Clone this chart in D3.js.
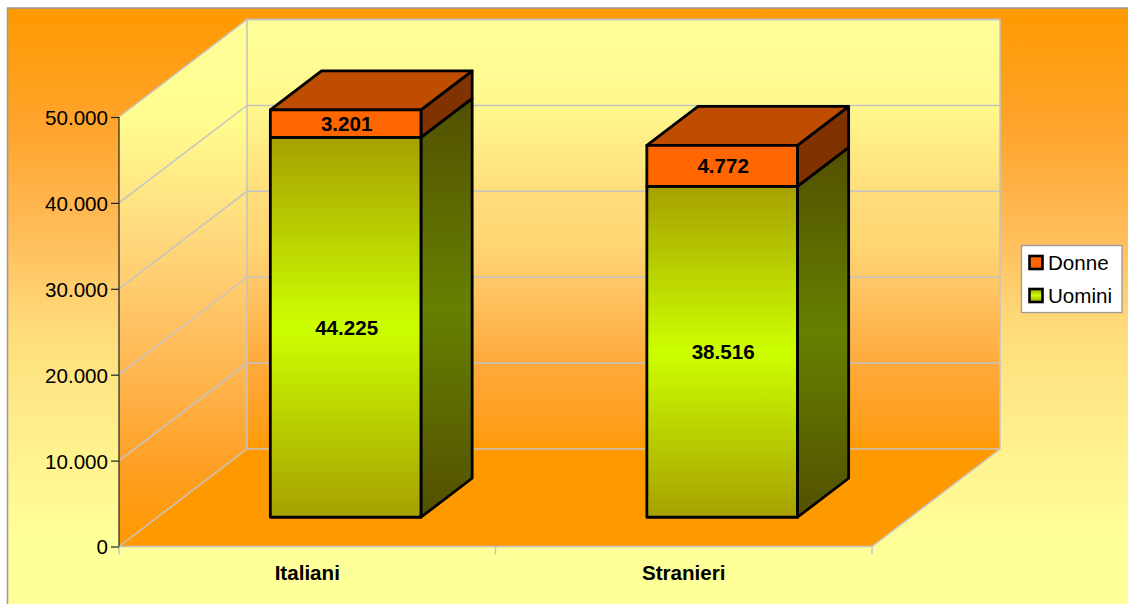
<!DOCTYPE html>
<html><head><meta charset="utf-8"><style>html,body{margin:0;padding:0;background:#fff}svg{display:block}text{font-family:"Liberation Sans",Arial,sans-serif;fill:#000}</style>
<script src="https://cdn.jsdelivr.net/npm/d3@7/dist/d3.min.js"></script></head><body><script>
const categories = ["Italiani", "Stranieri"];
const uomini = [44225, 38516];
const donne = [3201, 4772];
const yTicks = [0, 10000, 20000, 30000, 40000, 50000];
const legendLabels = ["Donne", "Uomini"];

const W = 1128, H = 604;
const FS = 20.6;
const svg = d3.select("body").append("svg").attr("width", W).attr("height", H);
const defs = svg.append("defs");
function grad(id, stops) {
  const g = defs.append("linearGradient").attr("id", id).attr("x1", 0).attr("y1", 0).attr("x2", 0).attr("y2", 1);
  stops.forEach(s => g.append("stop").attr("offset", s[0]).attr("stop-color", s[1]));
}
// colours sampled by eye at pixel rows
const rows = (y0, y1, samples) => samples.map(([py, c]) => [(py - y0) / (y1 - y0), c]);
grad("bg", rows(8, 604, [[8, "#FF9900"], [130, "#FFA52E"], [240, "#FFBE5C"], [330, "#FFDC7C"], [440, "#FFF08C"], [540, "#FFFF99"], [604, "#FFFF99"]]));
grad("back", rows(20, 449, [[20, "#FFFF99"], [106, "#FFF88E"], [190, "#FFDE7C"], [240, "#FFD774"], [280, "#FFC868"], [363, "#FFAA3C"], [430, "#FF9E1A"], [449, "#FF9900"]]));
grad("left", rows(20, 546.5, [[20, "#FFFF99"], [117, "#FFFD90"], [240, "#FFD87C"], [330, "#FFC060"], [400, "#FFB045"], [470, "#FF9E22"], [546.5, "#FF9900"]]));
grad("front", [[0, "#A6A000"], [0.5, "#CCFF00"], [1, "#A6A000"]]);
grad("side", [[0, "#535000"], [0.5, "#668000"], [1, "#535000"]]);

const x = d3.scaleBand().domain(categories).range([119, 872]);
const y = d3.scaleLinear().domain([0, 50000]).range([546.5, 117]);
const depthX = 128, depthY = 97.5;
const P = (px, v, d) => [px + d * depthX, y(v) - d * depthY];
const poly = pts => pts.map(p => p.join(",")).join(" ");
const fmt = v => d3.format(",")(v).replace(/,/g, ".");

svg.append("rect").attr("x", 7.5).attr("y", 8).attr("width", W).attr("height", H - 8)
  .attr("fill", "url(#bg)");
svg.append("path").attr("d", `M7.5,${H}V8H${W}`).attr("fill", "none").attr("stroke", "#999").attr("stroke-width", 1.5);

const x0 = x.range()[0], x1 = x.range()[1], maxV = y.domain()[1];
// walls
svg.append("polygon").attr("points", poly([P(x0, 0, 0), P(x0, maxV, 0), P(x0, maxV, 1), P(x0, 0, 1)])).attr("fill", "url(#left)");
svg.append("polygon").attr("points", poly([P(x0, 0, 1), P(x0, maxV, 1), P(x1, maxV, 1), P(x1, 0, 1)])).attr("fill", "url(#back)");
svg.append("polygon").attr("points", poly([P(x0, 0, 0), P(x0, 0, 1), P(x1, 0, 1), P(x1, 0, 0)])).attr("fill", "#FF9900");
// gridlines
const gridC = "#C4C4C4";
yTicks.forEach(t => {
  svg.append("polyline").attr("points", poly([P(x0, t, 0), P(x0, t, 1), P(x1, t, 1)]))
    .attr("fill", "none").attr("stroke", gridC).attr("stroke-width", 1.5);
});
svg.append("polyline").attr("points", poly([P(x0, 0, 1), P(x0, maxV, 1), P(x1, maxV, 1), P(x1, 0, 1), P(x1, 0, 0), P(x0, 0, 0)]))
  .attr("fill", "none").attr("stroke", gridC).attr("stroke-width", 1.5);
// category ticks
[...categories.map(c => x(c)), x1].forEach(px => {
  svg.append("line").attr("x1", px).attr("x2", px).attr("y1", y(0)).attr("y2", y(0) + 8).attr("stroke", gridC).attr("stroke-width", 1.5);
});
// value axis
const axis = svg.append("g").attr("transform", `translate(${x0},0)`).call(d3.axisLeft(y).tickValues(yTicks).tickFormat(fmt).tickSize(8).tickPadding(3));
axis.selectAll("path,line").attr("stroke", "#222").attr("stroke-width", 1.2);
axis.selectAll("text").attr("font-size", FS).attr("font-family", '"Liberation Sans",Arial,sans-serif').attr("fill", "#000").attr("dy", "0.36em");
axis.select(".domain").attr("d", `M0,${y(0)}V${y(maxV)}`);
// bars
const dA = 0.3, dB = 0.7;
const bw = x.bandwidth() * 0.4;
function box(left, v0, v1, frontFill, sideFill, topFill, drawTop) {
  const right = left + bw;
  const add = (pts, fill) => svg.append("polygon").attr("points", poly(pts)).attr("fill", fill)
    .attr("stroke", "#000").attr("stroke-width", 2.8).attr("stroke-linejoin", "round");
  add([P(right, v0, dA), P(right, v1, dA), P(right, v1, dB), P(right, v0, dB)], sideFill);
  if (drawTop) add([P(left, v1, dA), P(left, v1, dB), P(right, v1, dB), P(right, v1, dA)], topFill);
  add([P(left, v0, dA), P(left, v1, dA), P(right, v1, dA), P(right, v0, dA)], frontFill);
  return [(P(left, 0, dA)[0] + P(right, 0, dA)[0]) / 2, (P(left, v0, dA)[1] + P(left, v1, dA)[1]) / 2];
}
categories.forEach((c, i) => {
  const left = x(c) + x.bandwidth() * 0.3;
  const a = box(left, 0, uomini[i], "url(#front)", "url(#side)", "#808000", false);
  const b = box(left, uomini[i], uomini[i] + donne[i], "#FF6600", "#803300", "#BF4D00", true);
  [[a, uomini[i]], [b, donne[i]]].forEach(([pos, val]) => {
    svg.append("text").attr("x", pos[0] + 1).attr("y", pos[1]).attr("dy", "0.36em").attr("text-anchor", "middle")
      .attr("font-size", FS).attr("font-weight", "bold").text(fmt(val));
  });
  svg.append("text").attr("x", x(c) + x.bandwidth() / 2).attr("y", 580).attr("text-anchor", "middle")
    .attr("font-size", FS).attr("font-weight", "bold").text(c);
});
// legend
svg.append("rect").attr("x", 1021.5).attr("y", 245.5).attr("width", 100.5).attr("height", 67)
  .attr("fill", "#fff").attr("stroke", "#999").attr("stroke-width", 1.3);
const swatchFill = ["#FF6600", "url(#front)"];
legendLabels.forEach((l, i) => {
  const cy = 262.5 + i * 33;
  svg.append("rect").attr("x", 1029.5).attr("y", cy - 6.5).attr("width", 13).attr("height", 13)
    .attr("fill", swatchFill[i]).attr("stroke", "#000").attr("stroke-width", 2.6);
  svg.append("text").attr("x", 1048).attr("y", cy).attr("dy", "0.36em").attr("font-size", FS).text(l);
});
</script></body></html>
